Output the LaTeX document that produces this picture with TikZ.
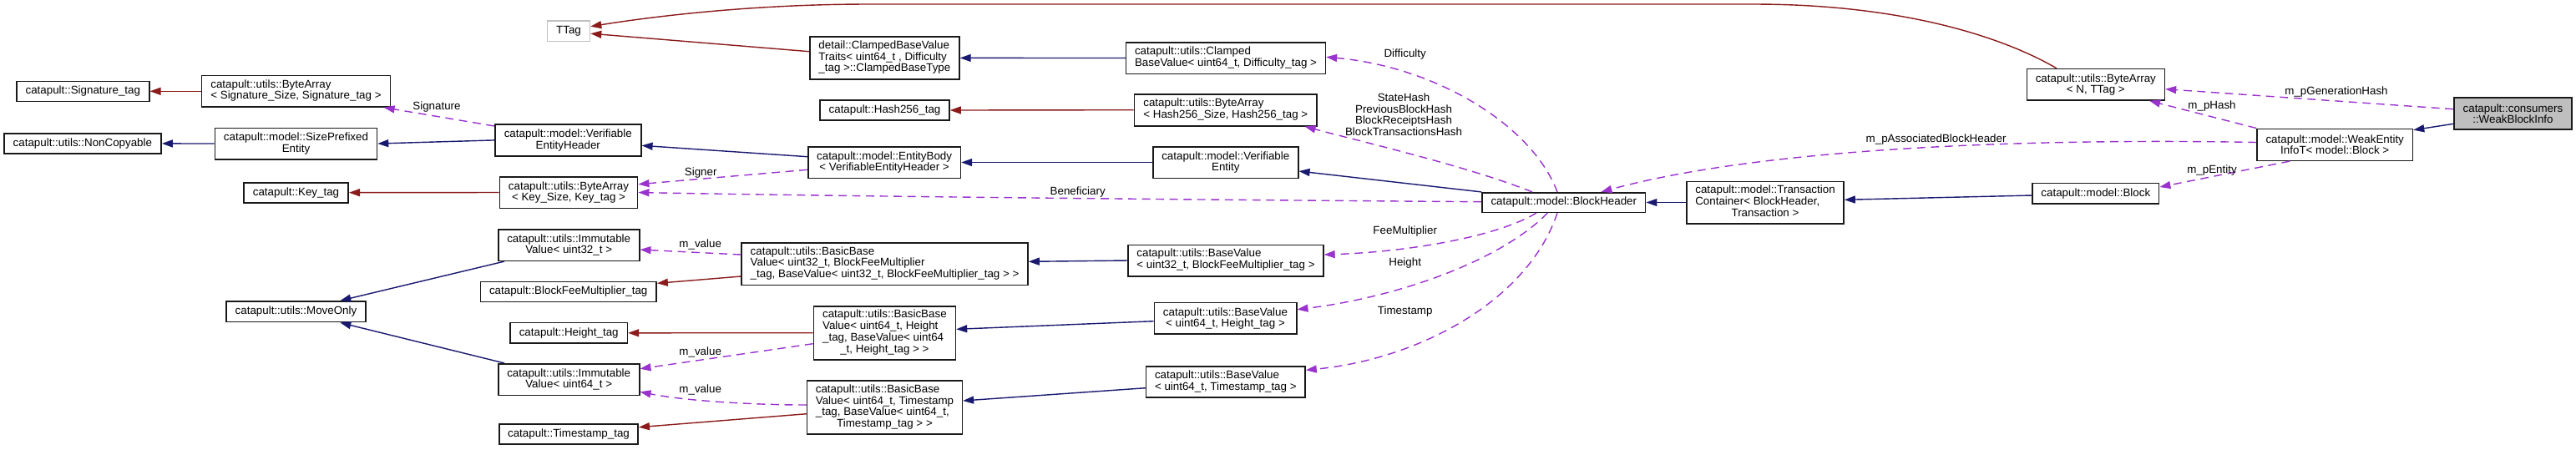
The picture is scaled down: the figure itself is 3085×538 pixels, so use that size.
\documentclass[tikz,border=0pt]{standalone}
\usepackage{fontspec}
\newfontfamily\dxfont{Liberation Sans}
\usetikzlibrary{arrows.meta,calc}
\definecolor{dxblue}{HTML}{191970}
\definecolor{dxred}{HTML}{8B1A1A}
\definecolor{dxpurple}{HTML}{9A32CD}
\definecolor{dxgrey}{HTML}{BFBFBF}
\newcommand{\dxf}{\dxfont\fontsize{3.8}{3.81}\selectfont}
\newcommand{\dxl}[1]{\begin{tabular}{@{}l@{}}#1\end{tabular}}
\newcommand{\dxc}[1]{\multicolumn{1}{@{}c@{}}{#1}}
\begin{document}
\begin{tikzpicture}[x=0.01cm,y=-0.01cm,
  box/.style={draw=black!90, line width=0.45pt, fill=white, inner sep=0pt, font=\dxf, align=center},
  wh/.style 2 args={minimum width=#1*0.01cm, minimum height=#2*0.01cm},
  lbl/.style={inner sep=0pt, font=\dxf, align=center},
  tipA/.style={-{Triangle[length=0.13cm,width=0.09cm]}},
  inh/.style={draw=dxblue, line width=0.4pt, tipA},
  tmpl/.style={draw=dxred, line width=0.4pt, tipA},
  use/.style={draw=dxpurple, line width=0.4pt, dash pattern=on 2.8pt off 1.9pt, tipA}]
\useasboundingbox (0,0) rectangle (3085,538);
% nodes
\node[box, wh={159}{24}] (sigtag) at (99.3,109.3) {catapult::Signature\_tag};
\node[box, wh={226}{37.3}] (basig) at (354.5,109.3) {\dxl{catapult::utils::ByteArray\\< Signature\_Size, Signature\_tag >}};
\node[box, wh={188.3}{24.3}] (noncopy) at (98.9,171.9) {catapult::utils::NonCopyable};
\node[box, wh={194}{37.4}] (sizepref) at (354.5,172) {catapult::model::SizePrefixed\\Entity};
\node[box, wh={125.4}{24}] (keytag) at (354.5,230.7) {catapult::Key\_tag};
\node[box, wh={175}{37.7}] (veh) at (680.3,167.9) {catapult::model::Verifiable\\EntityHeader};
\node[box, wh={165.3}{37.6}] (bakey) at (681,230.5) {catapult::utils::ByteArray\\< Key\_Size, Key\_tag >};
\node[box, draw=dxgrey, wh={51}{24.3}] (ttag) at (681,37.2) {TTag};
\node[box, wh={179}{51.3}] (ctraits) at (1059.4,69.4) {\dxl{detail::ClampedBaseValue\\Traits< uint64\_t , Difficulty\\\_tag >::ClampedBaseType}};
\node[box, wh={155}{24}] (hashtag) at (1059.5,132) {catapult::Hash256\_tag};
\node[box, wh={182.6}{37.6}] (ebody) at (1059.1,194.5) {catapult::model::EntityBody\\< VerifiableEntityHeader >};
\node[box, wh={238.7}{37.6}] (cbv) at (1468,69.5) {\dxl{catapult::utils::Clamped\\BaseValue< uint64\_t, Difficulty\_tag >}};
\node[box, wh={218.8}{38}] (bahash) at (1467.8,131.7) {\dxl{catapult::utils::ByteArray\\< Hash256\_Size, Hash256\_tag >}};
\node[box, wh={174}{37.6}] (ventity) at (1467.8,194.5) {catapult::model::Verifiable\\Entity};
\node[box, wh={195.7}{23.6}] (bh) at (1872.8,242.5) {catapult::model::BlockHeader};
\node[box, wh={188}{50.4}] (tc) at (2114,242.5) {\dxl{catapult::model::Transaction\\Container< BlockHeader,\\\dxc{Transaction >}}};
\node[box, wh={151.6}{24.5}] (block) at (2509.8,231.7) {catapult::model::Block};
\node[box, wh={186.5}{38}] (wei) at (2796.2,173.3) {catapult::model::WeakEntity\\InfoT< model::Block >};
\node[box, fill=dxgrey, wh={141.2}{38}] (wbi) at (3009.4,136) {catapult::consumers\\::WeakBlockInfo};
\node[box, wh={165}{37.3}] (ban) at (2509.8,101.3) {catapult::utils::ByteArray\\< N, TTag >};
\node[box, wh={169}{37.6}] (iv32) at (681.2,293.5) {catapult::utils::Immutable\\Value< uint32\_t >};
\node[box, wh={210.8}{24}] (bfmtag) at (680.7,349.3) {catapult::BlockFeeMultiplier\_tag};
\node[box, wh={342.8}{50.6}] (bbv32) at (1059.6,316) {\dxl{catapult::utils::BasicBase\\Value< uint32\_t, BlockFeeMultiplier\\\_tag, BaseValue< uint32\_t, BlockFeeMultiplier\_tag > >}};
\node[box, wh={233.7}{37.4}] (bv32) at (1468,312) {\dxl{catapult::utils::BaseValue\\< uint32\_t, BlockFeeMultiplier\_tag >}};
\node[box, wh={167.2}{24.7}] (moveonly) at (354.5,373.3) {catapult::utils::MoveOnly};
\node[box, wh={140.3}{24.3}] (heighttag) at (681.2,398.8) {catapult::Height\_tag};
\node[box, wh={170}{64}] (bbvh) at (1059.4,398.7) {\dxl{catapult::utils::BasicBase\\Value< uint64\_t, Height\\\_tag, BaseValue< uint64\\\dxc{\_t, Height\_tag > >}}};
\node[box, wh={170.4}{37.3}] (bvh) at (1467.5,381.3) {catapult::utils::BaseValue\\< uint64\_t, Height\_tag >};
\node[box, wh={169}{37.6}] (iv64) at (681.2,454.5) {catapult::utils::Immutable\\Value< uint64\_t >};
\node[box, wh={185.7}{64}] (bbvt) at (1059.5,488) {\dxl{catapult::utils::BasicBase\\Value< uint64\_t, Timestamp\\\_tag, BaseValue< uint64\_t,\\\dxc{Timestamp\_tag > >}}};
\node[box, wh={190.3}{37}] (bvt) at (1467.8,457.5) {\dxl{catapult::utils::BaseValue\\< uint64\_t, Timestamp\_tag >}};
\node[box, wh={166.3}{24}] (tstag) at (681,519.7) {catapult::Timestamp\_tag};
% template edges
\draw[tmpl] (basig.west) -- (sigtag.east);
\draw[tmpl] (bakey.west) -- (keytag.east);
\draw[tmpl] ($(ctraits.west)+(0,-7.7)$) -- ($(ttag.east)+(0,3)$);
\draw[tmpl] ($(ban.north)+(-46.8,0)$) .. controls (2400,45) and (2280,5) .. (2100,5) -- (1040,5) .. controls (900,5) and (780,20) .. ($(ttag.east)+(0,-5.5)$);
\draw[tmpl] (bahash.west) -- (hashtag.east);
\draw[tmpl] ($(bbv32.west)+(0,15)$) -- ($(bfmtag.east)+(0,-10)$);
\draw[tmpl] (bbvh.west) -- (heighttag.east);
\draw[tmpl] ($(bbvt.west)+(0,7.7)$) -- ($(tstag.east)+(0,-8)$);
% inheritance edges
\draw[inh] (sizepref.west) -- (noncopy.east);
\draw[inh] (veh.west) -- (sizepref.east);
\draw[inh] ($(ebody.west)+(0,-6.8)$) -- ($(veh.east)+(0,6.4)$);
\draw[inh] (ventity.west) -- (ebody.east);
\draw[inh] (bh.north west) -- ($(ventity.east)+(0,10.5)$);
\draw[inh] (tc.west) -- (bh.east);
\draw[inh] ($(block.west)+(0,2.3)$) -- ($(tc.east)+(0,-3.2)$);
\draw[inh] ($(wbi.west)+(0,12.3)$) -- ($(wei.east)+(0,-17.6)$);
\draw[inh] (cbv.west) -- (ctraits.east);
\draw[inh] (bv32.west) -- ($(bbv32.east)+(0,-2.7)$);
\draw[inh] ($(bvh.west)+(0,3.4)$) -- ($(bbvh.east)+(0,-4.4)$);
\draw[inh] ($(bvt.west)+(0,7.2)$) -- ($(bbvt.east)+(0,-8)$);
\draw[inh] ($(iv32.south west)+(8,0)$) -- ($(moveonly.north)+(52.8,0)$);
\draw[inh] ($(iv64.north west)+(8,0)$) -- ($(moveonly.south)+(52.8,0)$);
% usage edges
\draw[use] ($(veh.north west)+(0,2.7)$) -- ($(basig.south east)+(-8.7,0)$);
\draw[use] ($(ebody.west)+(0,8.8)$) -- ($(bakey.east)+(0,-9.8)$);
\draw[use] ($(bh.west)+(0,-0.8)$) .. controls (1400,239) and (1000,235) .. (bakey.east);
\draw[use] ($(bh.north)+(-7.8,0)$) .. controls (1835,150) and (1720,80) .. ($(cbv.east)+(0,-1.2)$);
\draw[use] ($(bh.north)+(-37.8,0)$) .. controls (1760,200) and (1640,172) .. ($(bahash.south east)+(-15.5,0)$);
\draw[use] ($(bh.south)+(-32.8,0)$) .. controls (1790,285) and (1680,302) .. ($(bv32.east)+(0,-7)$);
\draw[use] ($(bh.south)+(-19.5,0)$) .. controls (1800,310) and (1680,355) .. ($(bvh.east)+(0,-10.6)$);
\draw[use] ($(bh.south)+(-7.8,0)$) .. controls (1830,360) and (1700,430) .. ($(bvt.east)+(0,-14.2)$);
\draw[use] ($(bbv32.west)+(0,-11)$) -- ($(iv32.east)+(0,5.5)$);
\draw[use] ($(bbvh.west)+(0,13)$) -- ($(iv64.east)+(0,-12.8)$);
\draw[use] ($(bbvt.west)+(0,-3)$) .. controls (900,485) and (820,480) .. ($(iv64.east)+(0,14.8)$);
\draw[use] ($(wei.west)+(0,-2.8)$) .. controls (2400,165) and (2100,180) .. ($(bh.north east)+(-54,0)$);
\draw[use] (wei.north west) -- ($(ban.south east)+(-19,0)$);
\draw[use] ($(wbi.west)+(0,-5.3)$) -- ($(ban.east)+(0,5.4)$);
\draw[use] ($(wei.south)+(-54,0)$) -- ($(block.east)+(0,-7.7)$);
% labels
\node[lbl] (lsig) at (523,127.7) {Signature};
\node[lbl] (lsigner) at (839.2,206.7) {Signer};
\node[lbl] (lbenef) at (1290.7,230) {Beneficiary};
\node[lbl] (ldiff) at (1682.7,65.3) {Difficulty};
\node[lbl] (lhash) at (1681,137.3) {StateHash\\PreviousBlockHash\\BlockReceiptsHash\\BlockTransactionsHash};
\node[lbl] (lfee) at (1682.7,277.3) {FeeMultiplier};
\node[lbl] (lheight) at (1682.7,315.3) {Height};
\node[lbl] (lts) at (1682.7,373.3) {Timestamp};
\node[lbl] (lmv1) at (838.7,293.3) {m\_value};
\node[lbl] (lmv2) at (838.7,421.7) {m\_value};
\node[lbl] (lmv3) at (838.7,467.3) {m\_value};
\node[lbl] (lassoc) at (2318.6,166.7) {m\_pAssociatedBlockHeader};
\node[lbl] (lphash) at (2649,126.7) {m\_pHash};
\node[lbl] (lgen) at (2798,110) {m\_pGenerationHash};
\node[lbl] (lent) at (2649,204) {m\_pEntity};
\end{tikzpicture}
\end{document}
